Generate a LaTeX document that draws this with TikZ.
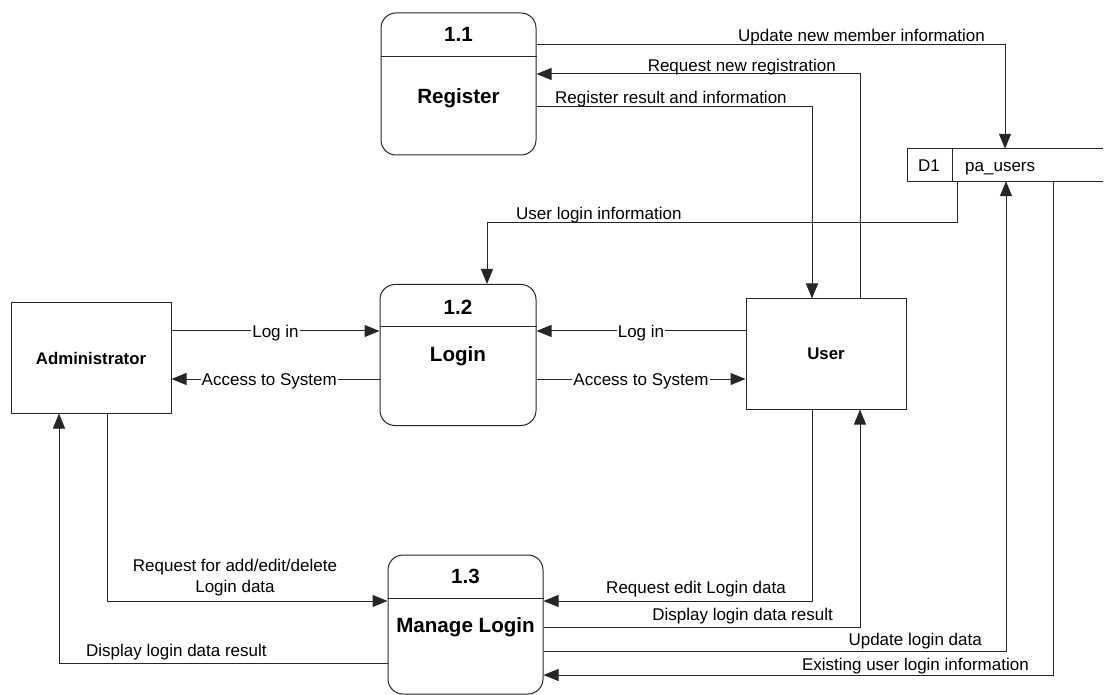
\documentclass[tikz,border=0pt]{standalone}
\usepackage{fontspec}
\setmainfont{Liberation Sans}
\usetikzlibrary{arrows.meta}

\newcommand{\lblsize}{\fontsize{17}{21}\selectfont}
\newcommand{\ttlsize}{\bfseries\fontsize{20.6}{24}\selectfont}

\tikzset{
  line/.style={draw=black!85, line width=1pt},
  flow/.style={line, -{Triangle[length=15pt,width=12pt]}},
  proc/.style={line, rounded corners=15pt, minimum width=155pt, inner sep=0pt},
  entity/.style={line, minimum width=160pt, minimum height=110pt, inner sep=0pt,
                 font=\bfseries\fontsize{16.8}{20}\selectfont},
  ptitle/.style={font=\ttlsize, inner sep=0pt, text height=14.6pt, text depth=0pt},
  lbl/.style={font=\lblsize, inner sep=0pt, text height=12.2pt, text depth=0pt},
  inl/.style={lbl, fill=white, inner xsep=1pt, inner ysep=2pt},
}

\begin{document}
\begin{tikzpicture}[x=1pt,y=-1pt]
\useasboundingbox (0,0) rectangle (1104,695);

% ---- processes ----
\node[proc, minimum height=142pt] (p11) at (458.5,84) {};
\draw[line] (p11.west |- 0,57) -- (p11.east |- 0,57);
\node[ptitle] (p11id) at (458.5,34) {1.1};
\node[ptitle] (p11nm) at (458.5,96) {Register};

\node[proc, minimum width=156pt, minimum height=141pt] (p12) at (458,355) {};
\draw[line] (p12.west |- 0,327) -- (p12.east |- 0,327);
\node[ptitle] (p12id) at (458,307) {1.2};
\node[ptitle] (p12nm) at (458,354) {Login};

\node[proc, minimum height=139pt] (p13) at (465.5,624.5) {};
\draw[line] (p13.west |- 0,598) -- (p13.east |- 0,598);
\node[ptitle] (p13id) at (465.5,576) {1.3};
\node[ptitle] (p13nm) at (465.5,625) {Manage Login};

% ---- external entities ----
\node[entity] (admin) at (91,358) {Administrator};
\node[entity] (user) at (826,354) {User};

% ---- data store ----
\node[minimum width=195pt, minimum height=32pt, inner sep=0pt] (d1) at (1005.5,165) {};
\draw[line] (d1.north east) -- (d1.north west) -- (d1.south west) -- (d1.south east);
\draw[line] (d1.north west -| 952,0) -- (d1.south west -| 952,0);
\node[lbl, anchor=center] (d1id) at (929,165) {D1};
\node[lbl, anchor=west] (d1nm) at (965,165) {pa\_users};

% ---- flows around Register ----
\draw[flow] (p11.east |- 0,45) -| (d1.north -| 1005,0);
\node[lbl, anchor=east] (f1) at (985,35) {Update new member information};

\draw[flow] (user.north -| 860,0) |- (p11.east |- 0,74);
\node[lbl, anchor=east] (f2) at (836,65) {Request new registration};

\draw[flow] (p11.east |- 0,107) -| (user.north -| 812,0);
\node[lbl, anchor=west] (f3) at (555,97.5) {Register result and information};

\draw[flow] (d1.south -| 957,0) -- (957,223) -| (p12.north -| 487,0);
\node[lbl, anchor=west] (f4) at (516,213) {User login information};

% ---- flows around Login ----
\draw[flow] (admin.east |- 0,331) -- (p12.west |- 0,331)
  node[inl, midway] (f5) {Log in};
\draw[flow] (p12.west |- 0,379) -- (admin.east |- 0,379)
  node[inl, pos=0.53] (f6) {Access to System};
\draw[flow] (user.west |- 0,331) -- (p12.east |- 0,331)
  node[inl, midway] (f7) {Log in};
\draw[flow] (p12.east |- 0,379) -- (user.west |- 0,379)
  node[inl, midway] (f8) {Access to System};

% ---- flows around Manage Login ----
\draw[flow] (admin.south -| 107,0) |- (p13.west |- 0,601);
\node[font=\lblsize, align=center, inner sep=0pt] (f9) at (235,578)
  {Request for add/edit/delete\\Login data};

\draw[flow] (p13.west |- 0,663) -| (admin.south -| 59,0);
\node[lbl, anchor=west] (f10) at (86,650) {Display login data result};

\draw[flow] (user.south -| 812,0) |- (p13.east |- 0,601);
\node[lbl, anchor=east] (f11) at (786,587) {Request edit Login data};

\draw[flow] (p13.east |- 0,627) -| (user.south -| 860,0);
\node[lbl, anchor=east] (f12) at (833,614) {Display login data result};

\draw[flow] (p13.east |- 0,651) -| (d1.south -| 1006,0);
\node[lbl, anchor=east] (f13) at (982,639) {Update login data};

\draw[flow] (d1.south -| 1053,0) |- (p13.east |- 0,675);
\node[lbl, anchor=east] (f14) at (1029,664) {Existing user login information};
\end{tikzpicture}
\end{document}
